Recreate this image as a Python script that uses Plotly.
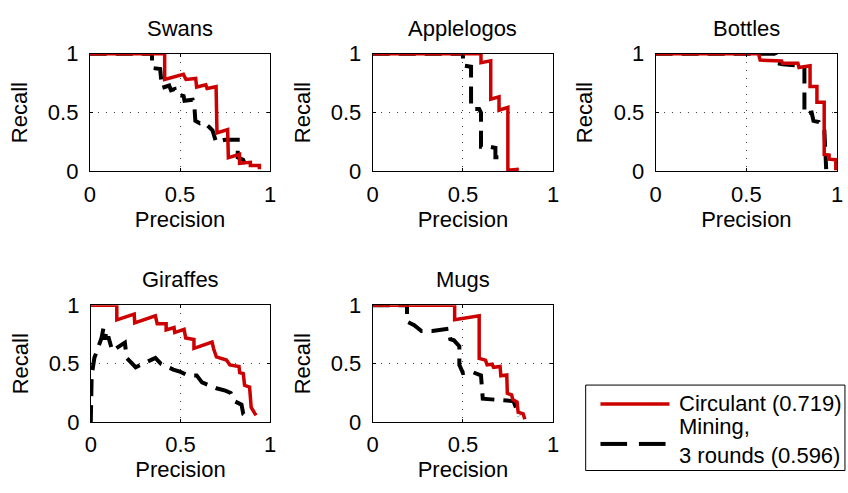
import plotly.graph_objects as go

W, H = 848, 493

titles = ["Swans", "Applelogos", "Bottles", "Giraffes", "Mugs"]
tick_vals = [0, 0.5, 1]
tick_text = ["0", "0.5", "1"]
legend_names = ["Circulant (0.719)", "Mining,<br>3 rounds (0.596)"]

# Swans
swans_circ_p = [0, 0.415, 0.415, 0.519, 0.533, 0.587, 0.592, 0.643, 0.65, 0.70, 0.705, 0.764, 0.768, 0.83, 0.83, 0.89, 0.89, 0.94, 0.94]
swans_circ_r = [1, 1, 0.782, 0.825, 0.782, 0.79, 0.718, 0.737, 0.705, 0.72, 0.328, 0.355, 0.118, 0.145, 0.07, 0.078, 0.05, 0.05, 0.02]
swans_mine_p = [0, 0.345, 0.345, 0.39, 0.40, 0.44, 0.45, 0.47, 0.475, 0.52, 0.525, 0.57, 0.58, 0.585, 0.61, 0.63, 0.66, 0.68, 0.70, 0.75, 0.82, 0.82, 0.85, 0.87, 0.89]
swans_mine_r = [1, 1, 0.88, 0.87, 0.71, 0.73, 0.69, 0.70, 0.66, 0.64, 0.60, 0.61, 0.55, 0.43, 0.41, 0.42, 0.38, 0.35, 0.25, 0.27, 0.27, 0.12, 0.10, 0.03, 0.03]

# Applelogos
apple_circ_p = [0, 0.60, 0.60, 0.654, 0.654, 0.70, 0.70, 0.749, 0.749, 0.81]
apple_circ_r = [1, 1, 0.925, 0.94, 0.615, 0.635, 0.52, 0.545, 0.01, 0.02]
apple_mine_p = [0, 0.50, 0.50, 0.545, 0.545, 0.55, 0.59, 0.60, 0.60, 0.65, 0.68, 0.68, 0.70]
apple_mine_r = [1, 1, 0.90, 0.89, 0.55, 0.53, 0.53, 0.50, 0.21, 0.21, 0.20, 0.12, 0.12]

# Bottles
bottle_circ_p = [0, 0.567, 0.576, 0.694, 0.70, 0.784, 0.79, 0.851, 0.851, 0.889, 0.889, 0.929, 0.929, 0.956, 0.956, 0.993, 0.993]
bottle_circ_r = [1, 1, 0.946, 0.938, 0.919, 0.919, 0.884, 0.898, 0.723, 0.723, 0.589, 0.589, 0.145, 0.14, 0.105, 0.10, 0.01]
bottle_mine_p = [0, 0.66, 0.67, 0.70, 0.80, 0.82, 0.82, 0.86, 0.87, 0.90, 0.93, 0.94, 0.94]
bottle_mine_r = [1, 1, 0.92, 0.91, 0.90, 0.88, 0.49, 0.50, 0.43, 0.42, 0.35, 0.13, 0.02]

# Giraffes
giraffe_circ_p = [0, 0.145, 0.145, 0.242, 0.245, 0.36, 0.37, 0.42, 0.42, 0.464, 0.468, 0.52, 0.529, 0.575, 0.575, 0.676, 0.685, 0.70, 0.756, 0.775, 0.826, 0.83, 0.85, 0.857, 0.885, 0.894, 0.921]
giraffe_circ_r = [1, 1, 0.876, 0.924, 0.85, 0.91, 0.843, 0.843, 0.789, 0.81, 0.767, 0.794, 0.721, 0.707, 0.632, 0.686, 0.626, 0.558, 0.531, 0.49, 0.477, 0.423, 0.415, 0.315, 0.30, 0.125, 0.057]
giraffe_mine_p = [0, 0.005, 0.02, 0.06, 0.07, 0.09, 0.08, 0.10, 0.12, 0.19, 0.20, 0.25, 0.36, 0.39, 0.46, 0.50, 0.54, 0.59, 0.62, 0.70, 0.75, 0.78, 0.80, 0.84, 0.85, 0.87]
giraffe_mine_r = [0, 0.40, 0.55, 0.72, 0.80, 0.80, 0.72, 0.72, 0.61, 0.68, 0.55, 0.47, 0.55, 0.50, 0.45, 0.43, 0.40, 0.40, 0.34, 0.29, 0.27, 0.25, 0.18, 0.15, 0.07, 0.05]

# Mugs
mugs_circ_p = [0, 0.454, 0.454, 0.59, 0.59, 0.625, 0.634, 0.661, 0.67, 0.706, 0.71, 0.743, 0.746, 0.77, 0.776, 0.80, 0.806, 0.834, 0.843]
mugs_circ_r = [1, 1, 0.876, 0.91, 0.545, 0.531, 0.49, 0.496, 0.469, 0.477, 0.396, 0.404, 0.246, 0.233, 0.193, 0.172, 0.084, 0.071, 0.024]
mugs_mine_p = [0, 0.19, 0.19, 0.23, 0.27, 0.33, 0.42, 0.43, 0.45, 0.48, 0.48, 0.50, 0.55, 0.60, 0.61, 0.68, 0.74, 0.78, 0.80, 0.81]
mugs_mine_r = [1, 1, 0.86, 0.83, 0.78, 0.78, 0.80, 0.71, 0.70, 0.65, 0.49, 0.42, 0.43, 0.40, 0.20, 0.19, 0.19, 0.18, 0.10, 0.05]

circ = [(swans_circ_p, swans_circ_r), (apple_circ_p, apple_circ_r), (bottle_circ_p, bottle_circ_r),
        (giraffe_circ_p, giraffe_circ_r), (mugs_circ_p, mugs_circ_r)]
mine = [(swans_mine_p, swans_mine_r), (apple_mine_p, apple_mine_r), (bottle_mine_p, bottle_mine_r),
        (giraffe_mine_p, giraffe_mine_r), (mugs_mine_p, mugs_mine_r)]

RED = "#cc0000"
FONT = "Liberation Sans, Arial, sans-serif"
FS = 22

# axis pixel boxes (left, right, top, bottom)
boxes = [(85, 268, 44, 168), (372, 555, 44, 168), (659, 843, 44, 168),
         (86, 268, 309, 432), (372, 555, 309, 432)]

fig = go.Figure()
layout = dict(width=W, height=H, margin=dict(l=0, r=0, t=0, b=0),
              paper_bgcolor="white", plot_bgcolor="white", showlegend=False,
              font=dict(family=FONT, size=FS, color="black"))
annotations = []
shapes = []

for i, (l, r, t, b) in enumerate(boxes):
    n = "" if i == 0 else str(i + 1)
    xa, ya = "x" + n, "y" + n
    ax_common = dict(range=[0, 1], tickvals=tick_vals, ticktext=tick_text,
                     showline=True, linecolor="black", linewidth=1, mirror="ticks",
                     ticks="inside", ticklen=3, tickcolor="black",
                     showgrid=True, gridcolor="#444", gridwidth=1, griddash="1px,7px",
                     zeroline=False, tickfont=dict(family=FONT, size=FS, color="black"),
                     fixedrange=True)
    layout["xaxis" + n] = dict(ax_common, domain=[l / W, r / W], anchor=ya,
                               ticklabelstandoff=3,
                               title=dict(text="Precision", standoff=2,
                                          font=dict(family=FONT, size=FS)))
    layout["yaxis" + n] = dict(ax_common, domain=[1 - b / H, 1 - t / H], anchor=xa,
                               ticklabelstandoff=6,
                               title=dict(text="Recall", standoff=14,
                                          font=dict(family=FONT, size=FS)))
    mp, mr = mine[i]
    cp, cr = circ[i]
    fig.add_trace(go.Scatter(x=mp, y=mr, mode="lines", xaxis=xa, yaxis=ya,
                             line=dict(color="black", width=4, dash="17px,9px"),
                             cliponaxis=False, name=legend_names[1]))
    fig.add_trace(go.Scatter(x=cp, y=cr, mode="lines", xaxis=xa, yaxis=ya,
                             line=dict(color=RED, width=3.5),
                             cliponaxis=False, name=legend_names[0]))
    annotations.append(dict(text=titles[i], x=(l + r) / 2 / W, y=1 - (t - 27) / H,
                            xref="paper", yref="paper", showarrow=False,
                            xanchor="center", yanchor="middle",
                            font=dict(family=FONT, size=FS)))

# manual legend (MATLAB style)
def px(x):
    return x / W

def py(y):
    return 1 - y / H

shapes.append(dict(type="rect", xref="paper", yref="paper",
                   x0=px(588), x1=px(851), y0=py(483), y1=py(393),
                   line=dict(color="black", width=1), fillcolor="white", layer="below"))
shapes.append(dict(type="line", xref="paper", yref="paper",
                   x0=px(603), x1=px(673), y0=py(413), y1=py(413),
                   line=dict(color=RED, width=3.5)))
shapes.append(dict(type="line", xref="paper", yref="paper",
                   x0=px(603), x1=px(630), y0=py(455), y1=py(455),
                   line=dict(color="black", width=4)))
shapes.append(dict(type="line", xref="paper", yref="paper",
                   x0=px(642), x1=px(669), y0=py(455), y1=py(455),
                   line=dict(color="black", width=4)))
annotations.append(dict(text=legend_names[0], x=px(681), y=py(412), xref="paper", yref="paper",
                        showarrow=False, xanchor="left", yanchor="middle",
                        font=dict(family=FONT, size=FS)))
annotations.append(dict(text=legend_names[1], x=px(681), y=py(452), xref="paper", yref="paper",
                        showarrow=False, xanchor="left", yanchor="middle", align="left",
                        font=dict(family=FONT, size=FS)))

layout["annotations"] = annotations
layout["shapes"] = shapes
fig.update_layout(**layout)
fig.write_html("out.html",
               post_script="document.body.style.margin='0px';document.body.style.overflow='hidden';")
